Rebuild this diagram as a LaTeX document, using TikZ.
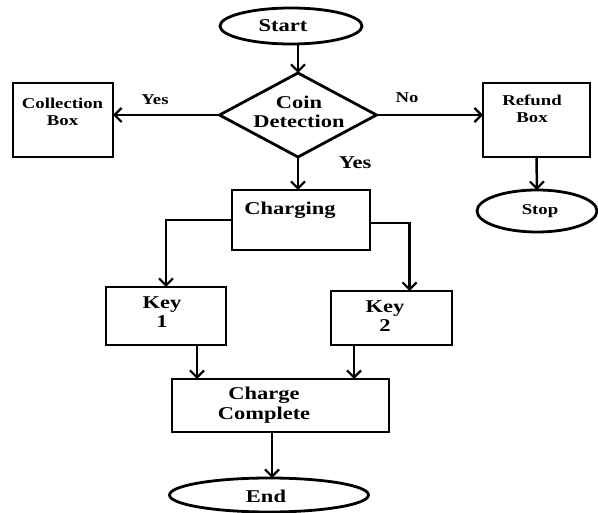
\documentclass[tikz,border=0pt]{standalone}
\usepackage{fontspec}
\setmainfont{Liberation Serif}[FakeStretch=1.25]
\usetikzlibrary{shapes.geometric,arrows.meta}
\begin{document}
\begin{tikzpicture}[x=1pt,y=-1pt,
  shp/.style={draw=black,line width=2.8pt,inner sep=0pt,outer sep=0pt},
  boxshape/.style={shp,rectangle},
  ellshape/.style={shp,ellipse},
  arr/.style={line width=2.5pt,-{Straight Barb[length=7pt,width=14pt,line width=2.2pt]}},
  big/.style={font=\fontsize{18}{19.5}\selectfont\bfseries,align=center,inner sep=0pt},
  small/.style={font=\fontsize{15}{16.5}\selectfont\bfseries,align=center,inner sep=0pt}]
\useasboundingbox (0,0) rectangle (598,513);
% shapes
\node[ellshape,minimum width=142pt,minimum height=36pt] (start) at (291,26) {};
\node[shp,diamond,aspect=1.87,minimum width=157pt,minimum height=84pt] (dia) at (298,115) {};
\node[boxshape,minimum width=100pt,minimum height=74pt] (coll) at (63,120) {};
\node[boxshape,minimum width=107pt,minimum height=74pt] (ref) at (536.5,120) {};
\node[ellshape,minimum width=120pt,minimum height=42pt] (stop) at (537,211) {};
\node[boxshape,minimum width=138pt,minimum height=60pt] (chg) at (301,220) {};
\node[boxshape,minimum width=120pt,minimum height=58pt] (key1) at (166,316) {};
\node[boxshape,minimum width=121pt,minimum height=54pt] (key2) at (391.5,318) {};
\node[boxshape,minimum width=217pt,minimum height=53pt] (cc) at (280.5,405.5) {};
\node[ellshape,minimum width=199pt,minimum height=34pt] (end) at (269,495) {};
% texts
\node[big] (tstart) at (283,26) {Start};
\node[big] (tdia) at (299,112) {Coin\\Detection};
\node[small] (tcoll) at (62.5,112) {Collection\\Box};
\node[small] (tref) at (532,109) {Refund\\Box};
\node[small] (tstop) at (540,211) {Stop};
\node[big] (tchg) at (290,210) {Charging};
\node[big] (tkey1) at (162,312) {Key\\1};
\node[big] (tkey2) at (385,316) {Key\\2};
\node[big] (tcc) at (264,405) {Charge\\Complete};
\node[big] (tend) at (266,496) {End};
\node[small] (lyes1) at (155,100) {Yes};
\node[small] (lno) at (407,98) {No};
\node[big] (lyes2) at (355,163) {Yes};
% connectors
\draw[arr] (dia.north |- start.south) -- (dia.north);
\draw[arr] (dia.west) -- (dia.west -| coll.east);
\draw[arr] (dia.east) -- (dia.east -| ref.west);
\draw[arr] (dia.south) -- (dia.south |- chg.north);
\draw[arr] (ref.south) -- (stop.north);
\draw[arr] (chg.west) -| (key1.north);
\coordinate (k2in) at ([xshift=18pt]key2.north);
\draw[arr] ([yshift=-3pt]chg.east) -| (k2in);
\coordinate (k1out) at ([xshift=31pt]key1.south);
\draw[arr] (k1out) -- (k1out |- cc.north);
\coordinate (k2out) at ([xshift=-37.5pt]key2.south);
\draw[arr] (k2out) -- (k2out |- cc.north);
\coordinate (ccout) at ([xshift=-8.5pt]cc.south);
\draw[arr] (ccout) -- (ccout |- end.north);
\end{tikzpicture}
\end{document}
